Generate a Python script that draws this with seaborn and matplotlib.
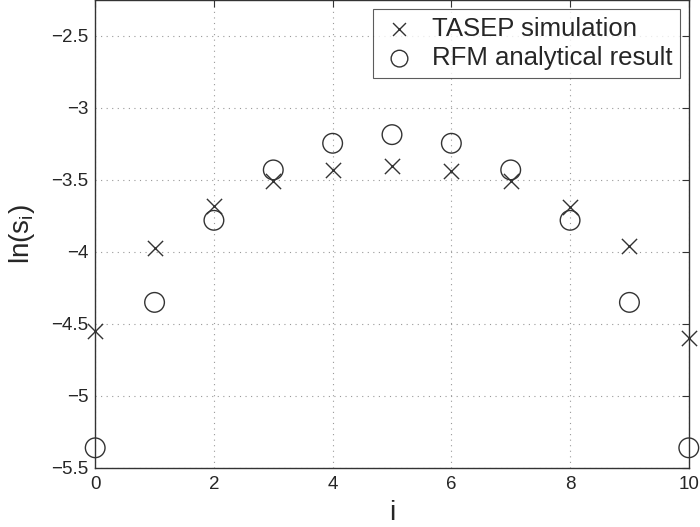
import matplotlib
matplotlib.use("Agg")
import matplotlib.pyplot as plt
import seaborn as sns
import numpy as np
import pandas as pd
from matplotlib.ticker import FuncFormatter

# codon index and ln of steady-state occupancy
site = [0, 1, 2, 3, 4, 5, 6, 7, 8, 9, 10]
tasep_sim = [-4.55, -3.97, -3.68, -3.51, -3.43, -3.40, -3.44, -3.51, -3.69, -3.96, -4.60]
rfm_result = [-5.36, -4.35, -3.78, -3.43, -3.245, -3.185, -3.245, -3.43, -3.78, -4.35, -5.36]

x_ticks = [0, 2, 4, 6, 8, 10]
y_ticks = [-5.5, -5, -4.5, -4, -3.5, -3, -2.5]

df = pd.DataFrame({"i": site, "tasep": tasep_sim, "rfm": rfm_result})

sns.set_style("white")
plt.rcParams['font.family'] = ['Liberation Sans', 'DejaVu Sans']
plt.rcParams['mathtext.fontset'] = 'custom'
plt.rcParams['mathtext.rm'] = 'Liberation Sans'
plt.rcParams['mathtext.it'] = 'Liberation Sans'

ink = '#333333'
fig = plt.figure(figsize=(7, 5.27), dpi=100)
ax = fig.add_axes([0.136, 0.112, 0.848, 0.888])

sns.scatterplot(data=df, x="i", y="tasep", marker='x', s=120, color=ink,
                linewidth=1.0, ax=ax, label='TASEP simulation', zorder=3)
sns.scatterplot(data=df, x="i", y="rfm", marker='o', s=200, facecolor='none',
                edgecolor=ink, linewidth=1.0, ax=ax, label='RFM analytical result',
                zorder=3)
for c in ax.collections:
    c.set_clip_on(False)

ax.set_xlim(0, 10)
ax.set_ylim(-5.5, -2.25)
ax.set_xticks(x_ticks)
ax.set_yticks(y_ticks)
fmt = FuncFormatter(lambda v, p: f"{v:g}".replace('-', '\u2212'))
ax.xaxis.set_major_formatter(fmt)
ax.yaxis.set_major_formatter(fmt)

ax.grid(True, linestyle=(0, (1, 4)), color='#999999', linewidth=0.8)
ax.tick_params(direction='in', length=5, width=0.8, color=ink, labelsize=13.5,
               top=True, right=True)
ax.tick_params(axis='x', pad=6)
ax.tick_params(axis='y', pad=5)
for sp in ax.spines.values():
    sp.set_color(ink)
    sp.set_linewidth(1.0)

ax.set_xlabel('i', fontsize=20, labelpad=5)
ax.set_ylabel('ln(s$_\\mathrm{i}$)', fontsize=20, labelpad=10)

leg = ax.legend(loc='upper right', fontsize=18.5, frameon=True, fancybox=False,
                borderpad=0.3, handletextpad=0.5, labelspacing=0.22,
                handlelength=1.5, borderaxespad=0.35, markerscale=0.85)
leg.get_frame().set_edgecolor(ink)
leg.get_frame().set_linewidth(0.8)

fig.savefig('out.png', dpi=100)
